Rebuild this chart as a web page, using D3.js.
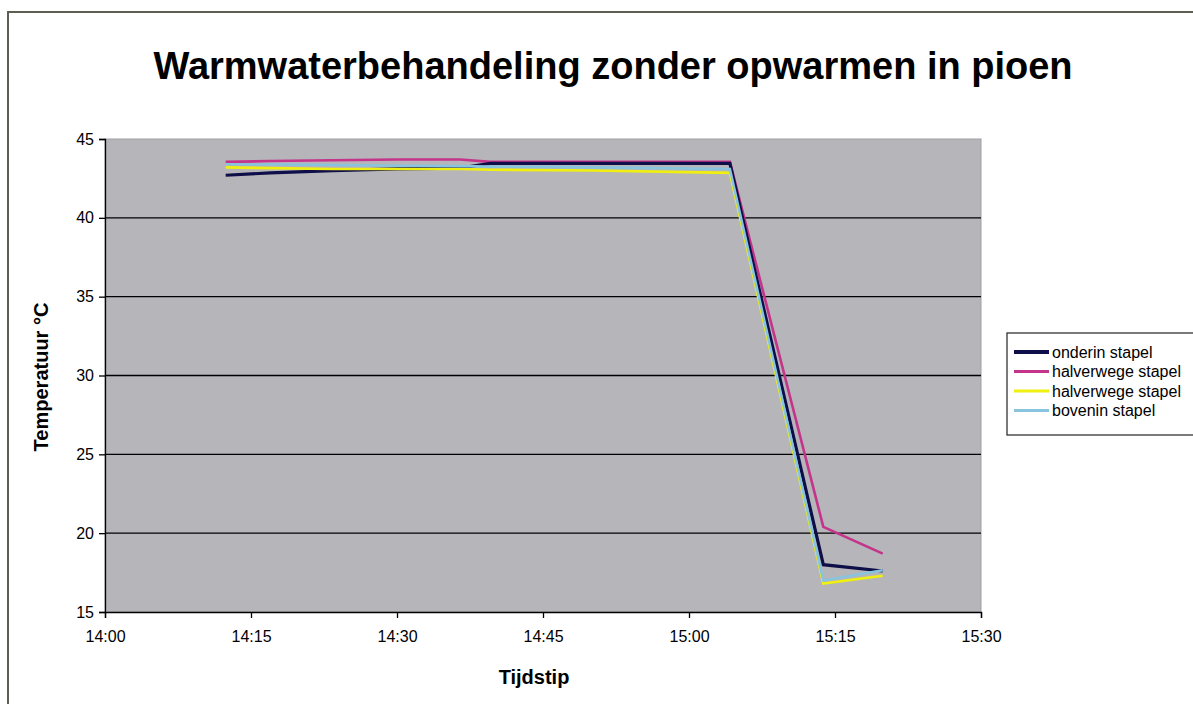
<!DOCTYPE html>
<html>
<head>
<meta charset="utf-8">
<script src="https://cdn.jsdelivr.net/npm/d3@7"></script>
<style>
  body { margin: 0; background: #ffffff; }
  svg { display: block; font-family: "Liberation Sans", Arial, sans-serif; }
</style>
</head>
<body>
<div id="chart"></div>
<script>
const WIDTH = 1193;
const HEIGHT = 704;

// minutes after 14:00
const times = [12.4, 17, 23.4, 30, 36.5, 39.6, 50, 64.2, 73.8, 79.9];
const onderin = [42.7, 42.85, 43.0, 43.1, 43.15, 43.45, 43.45, 43.45, 18.0, 17.6];
const halverwege1 = [43.55, 43.6, 43.65, 43.7, 43.7, 43.55, 43.55, 43.55, 20.4, 18.7];
const halverwege2 = [43.2, 43.15, 43.1, 43.1, 43.1, 43.05, 43.0, 42.85, 16.8, 17.3];
const bovenin = [43.4, 43.38, 43.35, 43.3, 43.28, 43.25, 43.2, 43.1, 17.0, 17.65];
const seriesNames = ["onderin stapel", "halverwege stapel", "halverwege stapel", "bovenin stapel"];
const seriesColors = ["#0e0e48", "#c4348a", "#f0f010", "#88c4de"];
const yTicks = [15, 20, 25, 30, 35, 40, 45];

const base = new Date(2000, 0, 1, 14, 0);
const toDate = m => new Date(base.getTime() + m * 60000);

const svg = d3.select("#chart").append("svg")
  .attr("width", WIDTH)
  .attr("height", HEIGHT);

// outer chart frame
svg.append("rect")
  .attr("x", 8).attr("y", 12)
  .attr("width", WIDTH + 10).attr("height", HEIGHT)
  .attr("fill", "#ffffff")
  .attr("stroke", "#5e5e50").attr("stroke-width", 2);

svg.append("text")
  .attr("x", 613).attr("y", 79)
  .attr("text-anchor", "middle")
  .attr("font-weight", "bold")
  .attr("font-size", 38)
  .text("Warmwaterbehandeling zonder opwarmen in pioen");

const x = d3.scaleTime()
  .domain([toDate(0), toDate(90)])
  .range([105, 981]);
const y = d3.scaleLinear()
  .domain([15, 45])
  .range([612, 139]);

// plot area
svg.append("rect")
  .attr("x", x.range()[0]).attr("y", y(45))
  .attr("width", x.range()[1] - x.range()[0])
  .attr("height", y(15) - y(45))
  .attr("fill", "#b6b5ba")
  .attr("stroke", "#a0a0a4").attr("stroke-width", 1);

// gridlines
svg.append("g")
  .selectAll("line")
  .data(yTicks.filter(t => t > 15 && t < 45))
  .join("line")
  .attr("x1", x.range()[0]).attr("x2", x.range()[1])
  .attr("y1", d => y(d)).attr("y2", d => y(d))
  .attr("stroke", "#000").attr("stroke-width", 1.3);

const yAxis = svg.append("g")
  .attr("transform", `translate(${x.range()[0]},0)`)
  .call(d3.axisLeft(y).tickValues(yTicks).tickSize(6).tickPadding(5));
yAxis.selectAll("text").attr("font-size", 16).attr("fill", "#000").attr("font-family", "Liberation Sans, Arial, sans-serif");
yAxis.selectAll("line, path").attr("stroke", "#000").attr("stroke-width", 1.3);

const xAxis = svg.append("g")
  .attr("transform", `translate(0,${y(15)})`)
  .call(d3.axisBottom(x)
    .tickValues(d3.range(0, 91, 15).map(toDate))
    .tickFormat(d3.timeFormat("%H:%M"))
    .tickSize(6).tickPadding(13));
xAxis.selectAll("text").attr("font-size", 16).attr("fill", "#000").attr("font-family", "Liberation Sans, Arial, sans-serif");
xAxis.selectAll("line, path").attr("stroke", "#000").attr("stroke-width", 1.3);

svg.append("text")
  .attr("x", 534).attr("y", 684)
  .attr("text-anchor", "middle")
  .attr("font-weight", "bold").attr("font-size", 20)
  .text("Tijdstip");

svg.append("text")
  .attr("transform", "translate(48,377) rotate(-90)")
  .attr("text-anchor", "middle")
  .attr("font-weight", "bold").attr("font-size", 20)
  .text("Temperatuur °C");

// series lines
const allSeries = [onderin, halverwege1, halverwege2, bovenin];
const line = d3.line()
  .x((d, i) => x(toDate(times[i])))
  .y(d => y(d));
const drawOrder = [1, 0, 2, 3];
svg.append("g")
  .selectAll("path")
  .data(drawOrder)
  .join("path")
  .attr("d", k => line(allSeries[k]))
  .attr("fill", "none")
  .attr("stroke", k => seriesColors[k])
  .attr("stroke-width", k => k === 0 ? 3.2 : 2.6)
  .attr("stroke-linejoin", "miter");

// legend
const lg = svg.append("g").attr("transform", "translate(1007,333)");
lg.append("rect")
  .attr("width", 200).attr("height", 102)
  .attr("fill", "#ffffff")
  .attr("stroke", "#333").attr("stroke-width", 1.3);
const items = lg.selectAll("g.item")
  .data(seriesNames)
  .join("g")
  .attr("transform", (d, i) => `translate(0,${19 + i * 19.5})`);
items.append("line")
  .attr("x1", 7).attr("x2", 42)
  .attr("stroke", (d, i) => seriesColors[i])
  .attr("stroke-width", (d, i) => i === 0 ? 4 : 3);
items.append("text")
  .attr("x", 45).attr("y", 5.5)
  .attr("font-size", 16)
  .text(d => d);
</script>
</body>
</html>
